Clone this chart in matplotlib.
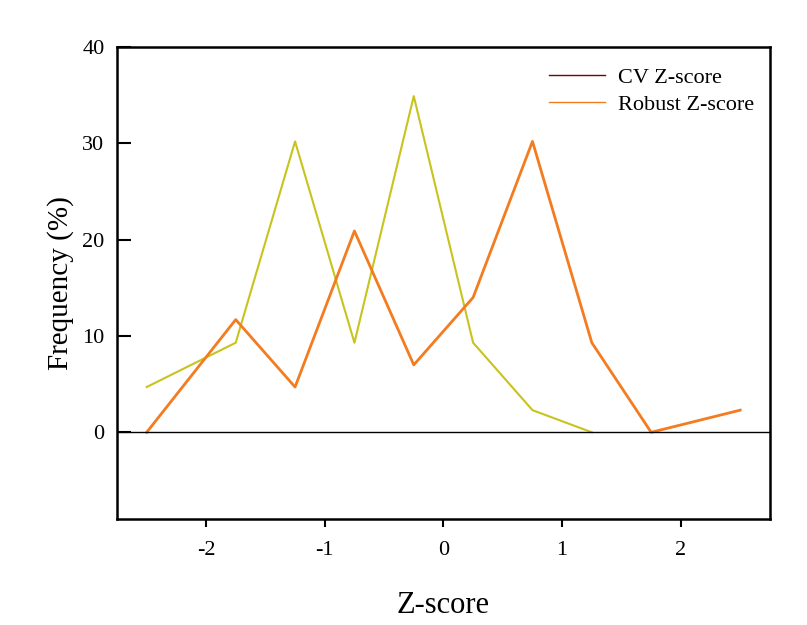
import matplotlib
matplotlib.use("Agg")
import matplotlib.pyplot as plt
from matplotlib.lines import Line2D

plt.rcParams['font.family'] = ['Liberation Serif', 'DejaVu Serif']
plt.rcParams['axes.unicode_minus'] = False

x_cv = [-2.5, -1.75, -1.25, -0.75, -0.25, 0.25, 0.75, 1.25, 1.75, 2.5]
y_cv = [0.0, 11.7, 4.7, 20.9, 7.0, 14.0, 30.2, 9.3, 0.0, 2.3]
x_rob = [-2.5, -1.75, -1.25, -0.75, -0.25, 0.25, 0.75, 1.25]
y_rob = [4.7, 9.3, 30.2, 9.3, 34.9, 9.3, 2.3, 0.0]

xticks = [-2, -1, 0, 1, 2]
yticks = [0, 10, 20, 30, 40]

fig = plt.figure(figsize=(8.07, 6.25), dpi=100)
ax = fig.add_axes([0.145, 0.1696, 0.809, 0.7552])

ax.plot(x_rob, y_rob, color='#c8c31e', lw=1.5)
ax.plot(x_cv, y_cv, color='#f47c20', lw=2.0)
ax.axhline(0, color='black', lw=1.0)

ax.set_xlim(-2.75, 2.75)
ax.set_ylim(-9, 40)
ax.set_xticks(xticks)
ax.set_yticks(yticks)
ax.set_xticklabels([str(t) for t in xticks])
ax.set_yticklabels([str(t) for t in yticks])
ax.tick_params(axis='x', direction='out', length=6, width=1.5, labelsize=16, pad=10)
ax.tick_params(axis='y', direction='in', length=10, width=1.5, labelsize=16, pad=9)
for s in ax.spines.values():
    s.set_linewidth(1.8)

ax.set_xlabel('Z-score', fontsize=22, labelpad=22)
ax.set_ylabel('Frequency (%)', fontsize=21, labelpad=6)

handles = [Line2D([], [], color='#7a0000', lw=1.0),
           Line2D([], [], color='#f47c20', lw=1.0)]
ax.legend(handles, ['CV Z-score', 'Robust Z-score'], loc='upper right',
          bbox_to_anchor=(1.0, 0.99),
          frameon=False, fontsize=16, handlelength=2.5, handletextpad=0.6,
          borderaxespad=0.3, labelspacing=0.3)

fig.savefig('out.png', dpi=100)
